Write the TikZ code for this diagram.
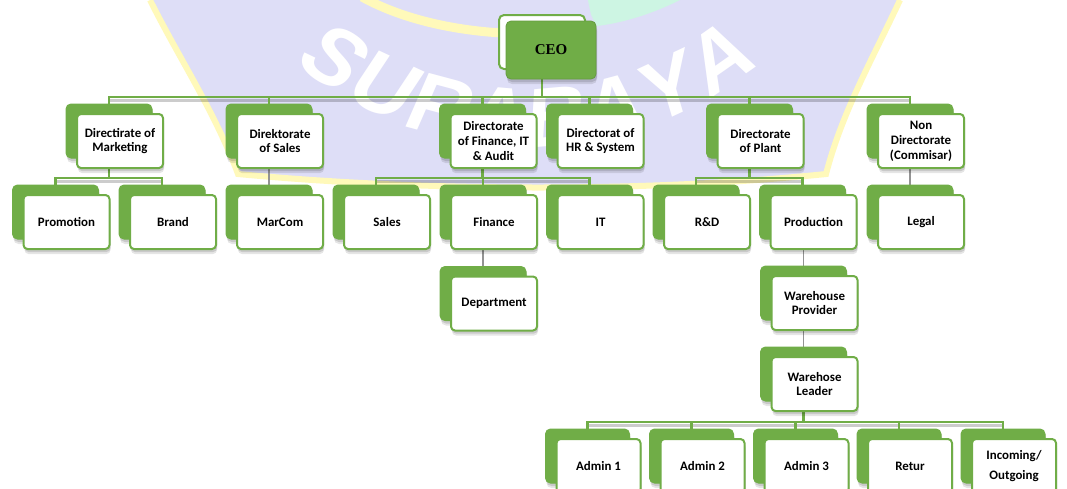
\documentclass[tikz,border=0pt]{standalone}
\usepackage{fontspec}
\setmainfont{Carlito}
\newfontfamily\ceofont{Liberation Serif}
\newfontfamily\wmfont{Liberation Sans}
\definecolor{ogreen}{HTML}{70AD47}
\definecolor{wmlav}{HTML}{DEDEF7}
\definecolor{wmyel}{HTML}{FFF9BA}
\definecolor{wmmint}{HTML}{CDF5E3}
\pgfdeclarelayer{paper}
\pgfdeclarelayer{wm}
\pgfdeclarelayer{bg}
\pgfsetlayers{paper,wm,bg,main}
\tikzset{
  softshadow/.style={
    preaction={fill=black, opacity=0.10, transform canvas={xshift=1pt, yshift=-5pt}},
    preaction={fill=black, opacity=0.12, transform canvas={xshift=1pt, yshift=-3pt}}},
  front/.style={draw=ogreen, line width=2pt, fill=white, rounded corners=4pt,
    minimum width=86pt, minimum height=54pt, align=center, inner sep=1pt,
    font=\bfseries\fontsize{12.9}{14.8}\selectfont, softshadow},
  back/.style={fill=ogreen, draw=ogreen, line width=1pt, rounded corners=5pt,
    minimum width=86pt, minimum height=54pt, inner sep=0pt, softshadow},
  ceofront/.style={fill=ogreen, draw=ogreen!90!black, line width=0.8pt, rounded corners=5pt,
    minimum width=90pt, minimum height=58pt, font=\ceofont\bfseries\fontsize{15}{17}\selectfont,
    softshadow},
  ceoback/.style={fill=white, draw=ogreen, line width=2pt, rounded corners=5pt,
    minimum width=86pt, minimum height=54pt},
  bus/.style={draw=ogreen, line width=2.4pt},
  busshade/.style={draw=black, opacity=0.2, line width=3pt, transform canvas={yshift=-3pt}},
  link/.style={draw=gray!85, line width=1.8pt},
  wmletter/.style={text=white, font=\wmfont\bfseries\fontsize{84}{84}\selectfont, inner sep=0pt},
}
\newcommand{\obox}[5][86]{%
  \node[back, minimum width=#1pt] (#2b) at (#3-11,#4-10) {};
  \node[front, minimum width=#1pt] (#2) at (#3,#4) {#5};
}
\begin{document}
\begin{tikzpicture}[x=1pt,y=-1pt]
\useasboundingbox (0,0) rectangle (1067,488);
\begin{pgfonlayer}{paper}
\fill[white] (0,0) rectangle (1067,488);
\end{pgfonlayer}
% watermark
\begin{pgfonlayer}{wm}
\fill[wmlav] (150,0) -- (900,0) .. controls (872,60) and (842,112) .. (826,174)
  .. controls (650,192) and (430,192) .. (238,174) .. controls (214,110) and (180,60) .. (150,0) -- cycle;
\draw[wmyel, line width=6pt] (150,0) .. controls (180,60) and (214,110) .. (238,174)
  .. controls (430,192) and (650,192) .. (826,174) .. controls (842,112) and (872,60) .. (900,0);
\draw[wmyel, line width=9pt] (362,-3) .. controls (400,18) and (450,30) .. (502,33);
\fill[wmmint] (588,0) -- (680,0) .. controls (660,10) and (630,22) .. (597,26) .. controls (591,16) .. (588,0) -- cycle;
\foreach \L [count=\i] in {S,U,R,A,B,A,Y,A} {
  \pgfmathsetmacro\ang{-35+10*(\i-1)}
  \node[wmletter, rotate=\ang, xslant=0.15] (wm\i) at ({528+336*sin(\ang)},{-218+336*cos(\ang)}) {\L};
}
\end{pgfonlayer}
% CEO
\node[ceoback] (ceob) at (542,42) {};
\node[ceofront] (ceo) at (551,50) {CEO};
% level 1
\obox{mkt}{120}{141}{Directirate of\\Marketing}
\obox{sdir}{280}{141}{Direktorate\\of Sales}
\obox{fdir}{493.5}{141}{Directorate\\of Finance, IT\\\& Audit}
\obox{hdir}{600.5}{141}{Directorat of\\HR \& System}
\obox{pdir}{760.5}{141}{Directorate\\of Plant}
\obox{ndir}{921}{141}{Non\\Directorate\\(Commisar)}
% level 2
\obox{promo}{66.5}{222}{Promotion}
\obox{brand}{173}{222}{Brand}
\obox{marcom}{280}{222}{MarCom}
\obox{sales}{387}{222}{Sales}
\obox{fin}{494}{222}{Finance}
\obox{it}{600.5}{222}{IT}
\obox{rd}{707}{222}{R\&D}
\obox{prod}{813.5}{222}{Production}
\obox{legal}{921}{222}{Legal}
% lower
\obox{dept}{494}{303.5}{Department}
\obox{wp}{814.5}{303}{Warehouse\\Provider}
\obox{wl}{814.5}{384}{Warehose\\Leader}
\obox[84]{a1}{598.5}{466}{Admin 1}
\obox[84]{a2}{702.5}{466}{Admin 2}
\obox[84]{a3}{806.5}{466}{Admin 3}
\obox[84]{ret}{910}{466}{Retur}
\obox[84]{inc}{1014}{466}{Incoming/\\[5pt]Outgoing}
% connectors
\coordinate (y1) at (0,97);
\coordinate (y2) at (0,178);
\coordinate (y3) at (0,422);
\begin{pgfonlayer}{bg}
\draw[busshade] (mktb |- y1) -- (ndirb |- y1);
\draw[bus] (ceob |- ceo.south) -- (ceob |- y1);
\draw[bus] (mktb.north) -- (mktb |- y1) -- (ndirb |- y1) -- (ndirb.north);
\foreach \n in {sdirb,fdirb,hdirb,pdirb} \draw[bus] (\n.north) -- (\n |- y1);
% marketing
\draw[busshade] (promob |- y2) -- (brandb |- y2);
\draw[bus] (mktb |- mkt.south) -- (mktb |- y2);
\draw[bus] (promob.north) -- (promob |- y2) -- (brandb |- y2) -- (brandb.north);
% finance directorate
\draw[busshade] (salesb |- y2) -- (itb |- y2);
\draw[bus] (fdirb |- fdir.south) -- (fdirb |- y2);
\draw[bus] (salesb.north) -- (salesb |- y2) -- (itb |- y2) -- (itb.north);
\draw[bus] (finb.north) -- (finb |- y2);
% plant
\draw[busshade] (rdb |- y2) -- (prodb |- y2);
\draw[bus] (pdirb |- pdir.south) -- (pdirb |- y2);
\draw[bus] (rdb.north) -- (rdb |- y2) -- (prodb |- y2) -- (prodb.north);
% single links
\draw[link] (marcomb |- sdir.south) -- (marcomb.north);
\draw[link] (legalb |- ndir.south) -- (legalb.north);
\draw[link] (deptb |- fin.south) -- (deptb.north);
\draw[link] (wpb |- prod.south) -- (wpb.north);
\draw[link] (wlb |- wp.south) -- (wlb.north);
% warehouse leader
\draw[busshade] (a1b |- y3) -- (incb |- y3);
\draw[bus] (wlb |- wl.south) -- (wlb |- y3);
\draw[bus] (a1b.north) -- (a1b |- y3) -- (incb |- y3) -- (incb.north);
\foreach \n in {a2b,a3b,retb} \draw[bus] (\n.north) -- (\n |- y3);
\end{pgfonlayer}
\end{tikzpicture}
\end{document}
